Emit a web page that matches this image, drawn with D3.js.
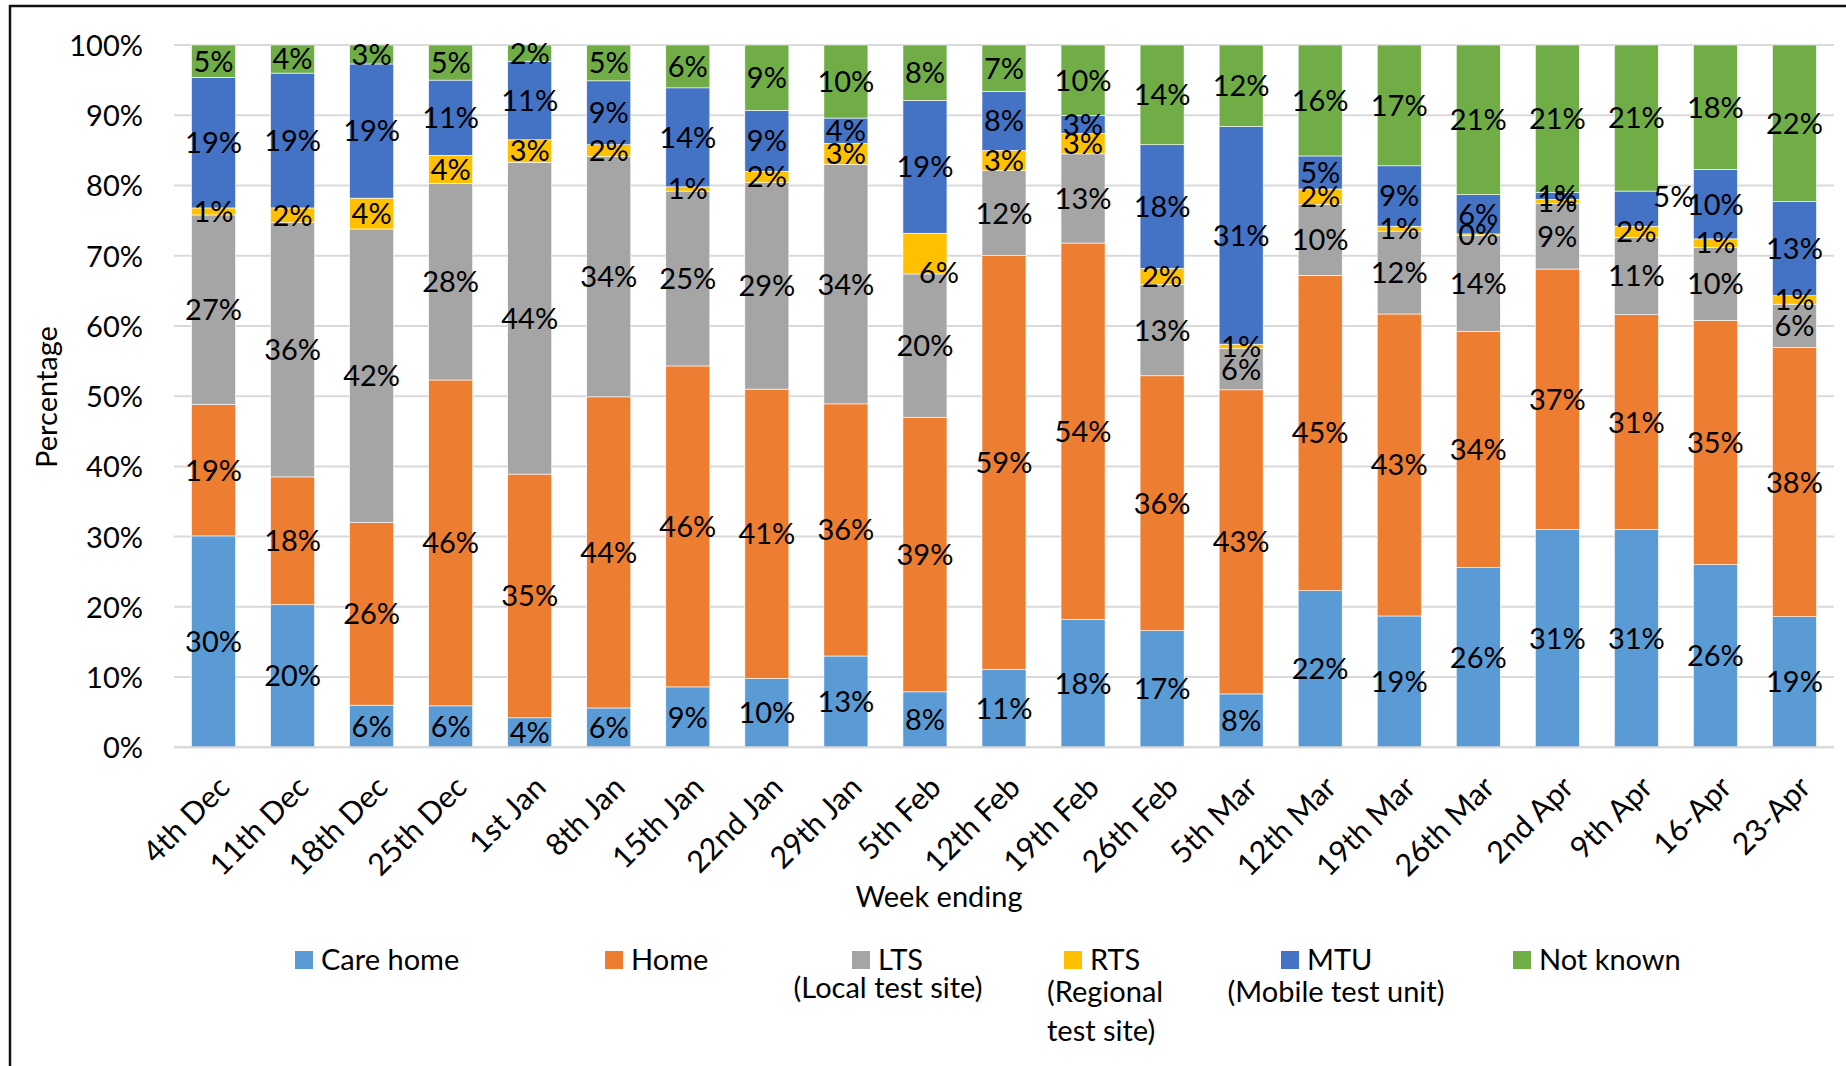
<!DOCTYPE html>
<html>
<head>
<meta charset="utf-8">
<script src="https://cdn.jsdelivr.net/npm/d3@7"></script>
<style>
  html, body { margin: 0; padding: 0; background: #fff; }
  svg { display: block; }
  text { font-family: Lato, "Open Sans", sans-serif; fill: #000; }
</style>
</head>
<body>
<svg id="chart" width="1846" height="1066"></svg>
<script>
const categories = ["4th Dec","11th Dec","18th Dec","25th Dec","1st Jan","8th Jan","15th Jan","22nd Jan","29th Jan","5th Feb","12th Feb","19th Feb","26th Feb","5th Mar","12th Mar","19th Mar","26th Mar","2nd Apr","9th Apr","16-Apr","23-Apr"];
const seriesNames = ["Care home","Home","LTS","RTS","MTU","Not known"];
const careHome = [30.1, 20.3, 6.0, 5.9, 4.2, 5.6, 8.6, 9.8, 13.0, 7.9, 11.1, 18.2, 16.6, 7.6, 22.3, 18.7, 25.6, 31.0, 31.0, 26.0, 18.6];
const home     = [18.7, 18.2, 26.0, 46.4, 34.7, 44.3, 45.7, 41.2, 35.9, 39.1, 58.9, 53.6, 36.3, 43.3, 44.9, 43.0, 33.6, 37.1, 30.6, 34.8, 38.3];
const lts      = [27.0, 36.2, 41.8, 28.0, 44.4, 34.2, 24.9, 29.4, 34.1, 20.4, 12.1, 12.7, 13.0, 5.9, 10.1, 11.8, 13.7, 9.3, 11.0, 10.4, 6.2];
const rts      = [1.0, 2.1, 4.4, 4.0, 3.2, 1.7, 0.6, 1.6, 3.0, 5.8, 2.9, 2.9, 2.3, 0.6, 2.2, 0.7, 0.2, 0.6, 1.6, 1.2, 1.2];
const mtu      = [18.6, 19.2, 19.1, 10.7, 11.2, 9.1, 14.1, 8.7, 3.6, 18.9, 8.4, 2.6, 17.6, 31.0, 4.7, 8.6, 5.6, 1.0, 5.0, 9.9, 13.4];
const notKnown = [4.6, 4.0, 2.7, 5.0, 2.3, 5.1, 6.1, 9.3, 10.4, 7.9, 6.6, 10.0, 14.2, 11.6, 15.8, 17.2, 21.3, 21.0, 20.8, 17.7, 22.3];
const yTicks = [0, 10, 20, 30, 40, 50, 60, 70, 80, 90, 100];
const legendSub = {"LTS": ["(Local test site)"], "RTS": ["(Regional", "test site)"], "MTU": ["(Mobile test unit)"]};

const colors = {"Care home":"#5B9BD5","Home":"#ED7D31","LTS":"#A5A5A5","RTS":"#FFC000","MTU":"#4472C4","Not known":"#70AD47"};
const seriesValues = [careHome, home, lts, rts, mtu, notKnown];

const rows = categories.map((c, i) => {
  const r = {cat: c};
  seriesNames.forEach((s, j) => r[s] = seriesValues[j][i]);
  return r;
});

const svg = d3.select("#chart");
const FS = 29;

// frame
svg.append("line").attr("x1", 9).attr("x2", 1846).attr("y1", 6).attr("y2", 6).attr("stroke", "#111").attr("stroke-width", 2.5);
svg.append("line").attr("x1", 10).attr("x2", 10).attr("y1", 5).attr("y2", 1066).attr("stroke", "#111").attr("stroke-width", 2.5);

const x = d3.scaleBand().domain(categories).range([174, 1834]).paddingInner(0.443).paddingOuter(0.2215);
const y = d3.scaleLinear().domain([0, 100]).range([747.3, 45]);

// gridlines
const grid = svg.append("g");
grid.selectAll("line").data(yTicks).join("line")
  .attr("x1", 174).attr("x2", 1834)
  .attr("y1", d => y(d)).attr("y2", d => y(d))
  .attr("stroke", "#D9D9D9").attr("stroke-width", 2);

// y axis labels
const yAxis = d3.axisLeft(y).tickValues(yTicks).tickFormat(d => d + "%").tickSize(0).tickPadding(0);
const yg = svg.append("g").attr("transform", "translate(143,0)").call(yAxis);
yg.select(".domain").remove();
yg.selectAll("text").attr("font-size", FS).attr("font-family", "Lato").attr("fill", "#000").attr("dy", "0.36em");

// stacked bars
const stack = d3.stack().keys(seriesNames);
const stacked = stack(rows);
const layers = svg.append("g").selectAll("g").data(stacked).join("g").attr("fill", d => colors[d.key]);
layers.selectAll("rect").data(d => d).join("rect")
  .attr("x", d => x(d.data.cat))
  .attr("width", x.bandwidth())
  .attr("y", d => y(d[1]))
  .attr("height", d => y(d[0]) - y(d[1]))
  .attr("stroke", "#fff").attr("stroke-width", 0.6);

// axis line
svg.append("line").attr("x1", 174).attr("x2", 1834).attr("y1", y(0)).attr("y2", y(0)).attr("stroke", "#D9D9D9").attr("stroke-width", 2);

// data labels
const labelOffset = {"RTS|5th Feb": [14, 19], "MTU|9th Apr": [37, -12]};
const lg = svg.append("g");
stacked.forEach(layer => {
  layer.forEach(d => {
    const key = layer.key + "|" + d.data.cat;
    const off = labelOffset[key] || [0, 0];
    const v = d[1] - d[0];
    lg.append("text")
      .attr("x", x(d.data.cat) + x.bandwidth() / 2 + off[0])
      .attr("y", y((d[0] + d[1]) / 2) + off[1])
      .attr("dy", "0.36em")
      .attr("text-anchor", "middle")
      .attr("font-size", FS)
      .text(Math.round(v) + "%");
  });
});

// x axis labels
const xAxis = d3.axisBottom(x).tickSize(0).tickPadding(0);
const xg = svg.append("g").attr("transform", "translate(0," + y(0) + ")").call(xAxis);
xg.select(".domain").remove();
xg.selectAll(".tick text")
  .attr("font-size", 30.5).attr("font-family", "Lato").attr("fill", "#000")
  .attr("text-anchor", "end")
  .attr("dy", 0).attr("y", 0)
  .attr("transform", "translate(18,42) rotate(-45)");

// axis titles
svg.append("text").attr("x", 939).attr("y", 907).attr("text-anchor", "middle").attr("font-size", FS).text("Week ending");
svg.append("text").attr("transform", "translate(57,397) rotate(-90)").attr("text-anchor", "middle").attr("font-size", FS).text("Percentage");

// legend
const legendPos = {"Care home": 295, "Home": 605, "LTS": 852, "RTS": 1064, "MTU": 1281, "Not known": 1513};
const subPos = {"LTS": {x: 888, anchor: "middle", y: [998]}, "RTS": {x: 1047, anchor: "start", y: [1002, 1041]}, "MTU": {x: 1336, anchor: "middle", y: [1002]}};
const leg = svg.append("g");
seriesNames.forEach(s => {
  const lx = legendPos[s];
  leg.append("rect").attr("x", lx).attr("y", 951).attr("width", 18).attr("height", 18).attr("fill", colors[s]);
  leg.append("text").attr("x", lx + 26).attr("y", 970).attr("font-size", FS).text(s);
  if (legendSub[s]) {
    legendSub[s].forEach((line, k) => {
      leg.append("text").attr("x", subPos[s].x).attr("y", subPos[s].y[k]).attr("text-anchor", subPos[s].anchor).attr("font-size", FS).text(line);
    });
  }
});
</script>
</body>
</html>
